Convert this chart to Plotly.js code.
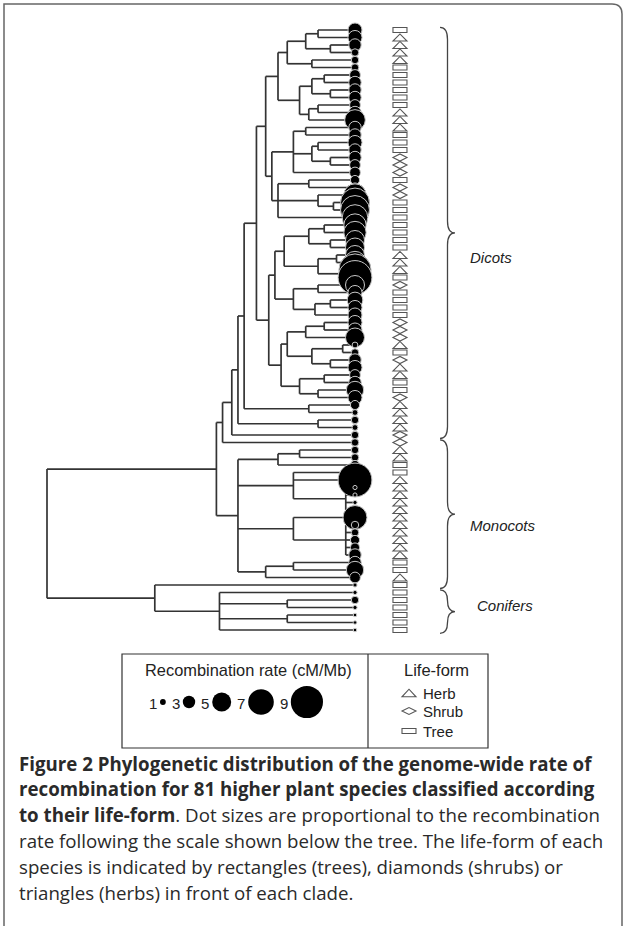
<!DOCTYPE html>
<html><head><meta charset="utf-8">
<script src="https://cdn.plot.ly/plotly-3.0.1.min.js"></script>
<style>html,body{margin:0;padding:0;background:#fff}#chart{width:627px;height:926px}</style>
</head><body><div id="chart"></div>
<script>
// ---------- DATA ----------
// recombination rate (cM/Mb) of each of the 81 species, top to bottom
const rates = [3.5,3.5,3,1.5,1.5,1.5,2.5,3,3,3,2.5,3,5.5,3,3,3.5,3,3,2.5,2.5,
  2,2,6,8,8,7,6,6,5,5,5,6,9,9.5,5,3.5,4,3.5,3.5,3.5,
  3.5,5,1,1.5,3,3.5,2.5,3,4.5,3.5,2,1,1.5,1,1.5,1.5,1.5,1.5,2,3,
  9.5,0.5,0.5,0.5,1,6.5,1.5,1.5,2,2,3,3,4.5,2.5,0.5,0.5,1.5,0.5,0.3,0.3,0.3];
// life-form: T = tree, S = shrub, H = herb
const lifeForms = ['T','H','H','H','H','T','T','T','T','T','T','H','H','H','T','T','T','S','S','S',
  'T','S','S','T','T','T','T','T','T','T','H','H','H','T','S','T','T','T','T','S',
  'S','S','H','T','S','H','H','T','T','S','H','H','H','H','S','S','H','H','T','T',
  'H','H','H','H','H','H','H','H','H','H','H','T','T','H','T','T','T','T','T','T','T'];
// tree topology (Newick, internal labels = node depth, tips at depth 100)
const cladeC1 = "(((1,2)88,(3,4)92)84,(5,6)86)78";
const cladeC2 = "(((7,8)90,(9,10)92)86,((11,12)88,13)85)82";
const cladeC3 = "((14,15)84,((16,17)88,(18,19)92)86,20)80";
const cladeC4 = "((21,22)85,(23,(24,25)93)88,26)75";
const cladeC5 = "(((27,28)90,(29,30)92)85,((31,32)94,(33,34)96)88)77";
const cladeC6 = "((35,36)88,((37,38)92,39)87)80";
const cladeC7 = "(((40,41)90,42)84,((43,44)96,(45,46)92)86)78";
const cladeC8 = "((47,48)90,(49,50)88)82";
const dicotCrown = "(((" + cladeC1 + "," + cladeC2 + ")75,(" + cladeC3 + "," + cladeC4 + ")73)71,((" + cladeC5 + "," + cladeC6 + ")74,(" + cladeC7 + "," + cladeC8 + ")76)72)68";
const dicots = "((((" + dicotCrown + ",(51,52)85)64,(53,54)88)62,55)60,56)57";
const monocots = "(((57,58)82,59)75,(60,61,(62,63,64,65)97)80,(66,(67,68,69,70,71)97)80,((72,73)80,74)71)62";
const conifers = "(75,(76,(77,78)78,(79,80)78,81)56)35";
const treeNewick = "((" + dicots + "," + monocots + ")55," + conifers + ")0";
// groups
const groupNames = ['Dicots','Monocots','Conifers'];
const groupFirst = [1,56,76];
const groupLast = [55,75,81];
// legend
const legendTitle = 'Recombination rate (cM/Mb)';
const legendRates = [1,3,5,7,9];
const formTitle = 'Life-form';
const legendForms = ['H','S','T'];
const legendFormNames = ['Herb','Shrub','Tree'];
// caption
const captionLines = [
  "<b>Figure 2 Phylogenetic distribution of the genome-wide rate of</b>",
  "<b>recombination for 81 higher plant species classified according</b>",
  "<b>to their life-form</b>. Dot sizes are proportional to the recombination",
  "rate following the scale shown below the tree. The life-form of each",
  "species is indicated by rectangles (trees), diamonds (shrubs) or",
  "triangles (herbs) in front of each clade."
];

// ---------- BUILD ----------
function parseNewick(s){
  let i=0;
  function num(){let t='';while(i<s.length&&/[0-9.]/.test(s[i]))t+=s[i++];return t;}
  function node(){
    if(s[i]==='('){
      i++; const ch=[node()];
      while(s[i]===','){i++;ch.push(node());}
      i++; return {children:ch, depth:parseFloat(num())};
    }
    return {tip:parseInt(num())};
  }
  return node();
}
const TIP_DEPTH=100;
const root=parseNewick(treeNewick);
function layout(n){
  if(n.tip!==undefined){n.x=TIP_DEPTH;n.y=n.tip;return;}
  n.children.forEach(layout);
  n.x=n.depth;
  n.y=(n.children[0].y+n.children[n.children.length-1].y)/2;
}
layout(root);
const lx=[],ly=[];
function drawNode(n){
  if(!n.children)return;
  const f=n.children[0],l=n.children[n.children.length-1];
  lx.push(n.x,n.x,null);ly.push(f.y,l.y,null);
  n.children.forEach(c=>{lx.push(n.x,c.x,null);ly.push(c.y,c.y,null);drawNode(c);});
}
drawNode(root);

const sizeOf = r => 3.3*r+2.5;
const tipIdx = rates.map((_,i)=>i+1);

// axes mapping: main axis x = depth, y = tip index
const PX_PER_X=3.08, X0PX=47, PX_PER_Y=7.5, Y0PX=30, W=627, H=926;
const xRange=[-X0PX/PX_PER_X,(W-X0PX)/PX_PER_X];
const yRange=[1+(H-Y0PX)/PX_PER_Y, 1-Y0PX/PX_PER_Y];

const shapes=[];
const SYM_X=114.6, symHW=7/PX_PER_X;
function symbolShape(form,cx,cy,hw,hh,xref,yref,rh){
  const base={xref:xref,yref:yref,line:{color:'#555',width:1.1},fillcolor:'#fff'};
  if(form==='T'){
    return Object.assign(base,{type:'rect',x0:cx-hw,x1:cx+hw,y0:cy-rh,y1:cy+rh});
  }
  let p;
  if(form==='H') p=`M${cx-hw},${cy+hh} L${cx+hw},${cy+hh} L${cx},${cy-hh} Z`;
  else p=`M${cx-hw},${cy} L${cx},${cy-hh} L${cx+hw},${cy} L${cx},${cy+hh} Z`;
  return Object.assign(base,{type:'path',path:p});
}
lifeForms.forEach((f,i)=>shapes.push(symbolShape(f,SYM_X,i+1,symHW,0.47,'x','y',0.33)));

// braces
const BR_X=(440-X0PX)/PX_PER_X, BR_W=15/PX_PER_X, BR_R=1.6;
const labelDy=[3.3,1.5,-0.8], labelDx=[4.2,4.2,6.5];
const annotations=[];
groupNames.forEach((g,k)=>{
  const ya=groupFirst[k]-0.35, yb=groupLast[k]+0.45, yc=(ya+yb)/2;
  const xm=BR_X+BR_W/2, xe=BR_X+BR_W;
  const r=Math.min(BR_R,(yb-ya)/4);
  const p=`M${BR_X},${ya} Q${xm},${ya} ${xm},${ya+r} L${xm},${yc-r} Q${xm},${yc} ${xe},${yc} Q${xm},${yc} ${xm},${yc+r} L${xm},${yb-r} Q${xm},${yb} ${BR_X},${yb}`;
  shapes.push({type:'path',path:p,xref:'x',yref:'y',line:{color:'#444',width:1.3}});
  annotations.push({x:xe+labelDx[k],y:yc+labelDy[k],xref:'x',yref:'y',text:'<i>'+g+'</i>',showarrow:false,
    xanchor:'left',yanchor:'middle',font:{family:'Liberation Sans, Arial',size:15,color:'#222'}});
});

// legend box (pixel overlay axes x2/y2)
shapes.push({type:'rect',xref:'x2',yref:'y2',x0:122,x1:488,y0:654,y1:748,line:{color:'#333',width:1.2}});
shapes.push({type:'line',xref:'x2',yref:'y2',x0:368,x1:368,y0:654,y1:748,line:{color:'#333',width:1.2}});
annotations.push({x:248,y:670,xref:'x2',yref:'y2',text:legendTitle,showarrow:false,xanchor:'center',yanchor:'middle',
  font:{family:'Liberation Sans, Arial',size:16.4,color:'#222'}});
annotations.push({x:436,y:670,xref:'x2',yref:'y2',text:formTitle,showarrow:false,xanchor:'center',yanchor:'middle',
  font:{family:'Liberation Sans, Arial',size:16.5,color:'#222'}});
const legX=[],legY=[],legS=[];
let cx=149;
legendRates.forEach(r=>{
  const s=sizeOf(r);
  annotations.push({x:cx+4,y:703,xref:'x2',yref:'y2',text:String(r),showarrow:false,xanchor:'center',yanchor:'middle',
    font:{family:'Liberation Sans, Arial',size:15,color:'#222'}});
  const dc=cx+11+s/2;
  legX.push(dc);legY.push(702);legS.push(s);
  cx=dc+s/2+6;
});
const formY=[693,711,731];
legendForms.forEach((f,k)=>{
  shapes.push(symbolShape(f,409,formY[k],7,f==='S'?3.5:3.8,'x2','y2',2.5));
  annotations.push({x:421,y:formY[k],xref:'x2',yref:'y2',text:legendFormNames[k],showarrow:false,xanchor:'left',yanchor:'middle',
    font:{family:'Liberation Sans, Arial',size:15,color:'#222'}});
});

// frame
shapes.push({type:'path',xref:'x2',yref:'y2',path:'M4,930 L4,4 L612,4 Q622,4 622,14 L622,930',line:{color:'#666',width:1.5}});

// caption
captionLines.forEach((t,k)=>{
  annotations.push({x:17,y:763+k*25.8,xref:'x2',yref:'y2',text:t,showarrow:false,xanchor:'left',yanchor:'middle',
    font:{family:'Open Sans',size:18.7,color:'#2a2a2a'}});
});

const traces=[
  {type:'scatter',mode:'lines',x:lx,y:ly,line:{color:'#333',width:1.7},hoverinfo:'skip',connectgaps:false},
  {type:'scatter',mode:'markers',x:tipIdx.map(()=>TIP_DEPTH),y:tipIdx,
    marker:{size:rates.map(sizeOf),color:'#000',opacity:1,line:{color:'#c8c8c8',width:1}},hoverinfo:'skip'},
  {type:'scatter',mode:'markers',x:legX,y:legY,xaxis:'x2',yaxis:'y2',
    marker:{size:legS,color:'#000',opacity:1,line:{width:0}},hoverinfo:'skip'}
];
const ax={visible:false,showgrid:false,zeroline:false,fixedrange:true};
const layout2={
  width:W,height:H,margin:{l:0,r:0,t:0,b:0},paper_bgcolor:'#fff',plot_bgcolor:'rgba(0,0,0,0)',
  showlegend:false,
  xaxis:Object.assign({range:xRange,domain:[0,1]},ax),
  yaxis:Object.assign({range:yRange,domain:[0,1]},ax),
  xaxis2:Object.assign({range:[0,W],overlaying:'x'},ax),
  yaxis2:Object.assign({range:[H,0],overlaying:'y'},ax),
  shapes:shapes,annotations:annotations
};
Plotly.newPlot('chart',traces,layout2,{staticPlot:true,displayModeBar:false});
</script></body></html>
